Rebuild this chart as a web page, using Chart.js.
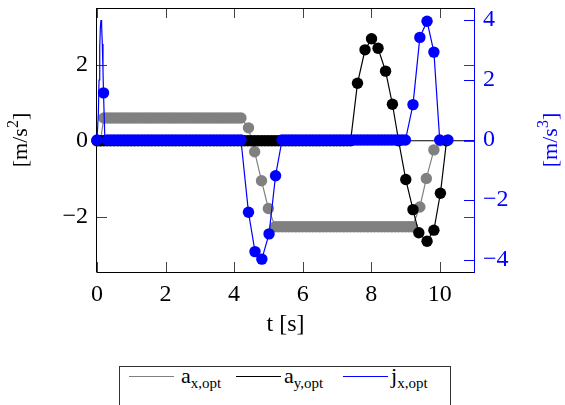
<!DOCTYPE html>
<html>
<head>
<meta charset="utf-8">
<script src="https://cdn.jsdelivr.net/npm/chart.js@4.4.1/dist/chart.umd.min.js"></script>
<style>
  body { margin: 0; background: #fff; }
  #wrap { position: relative; width: 565px; height: 405px; overflow: hidden; font-family: "Liberation Serif", "DejaVu Serif", serif; }
  #chart { position: absolute; left: 0; top: 0; }
  #legend { position: absolute; left: 119px; top: 366px; width: 332px; height: 60px; border: 1px solid #333; box-sizing: border-box; }
  .swatch { position: absolute; top: 9px; width: 45px; height: 0; border-top: 1px solid; }
  .label { position: absolute; top: -2px; font-size: 22px; line-height: 22px; white-space: nowrap; }
  .label sub { font-size: 15px; vertical-align: -5px; line-height: 0; }
</style>
</head>
<body>
<div id="wrap">
  <canvas id="chart" width="565" height="360"></canvas>
  <div id="legend">
    <div class="swatch" style="left:9px;border-color:#808080"></div>
    <div class="label" style="left:61px">a<sub>x,opt</sub></div>
    <div class="swatch" style="left:116px;border-color:#000"></div>
    <div class="label" style="left:164px">a<sub>y,opt</sub></div>
    <div class="swatch" style="left:223px;border-color:#0000ff"></div>
    <div class="label" style="left:271px">j<sub>x,opt</sub></div>
  </div>
</div>
<script>
const BLUE = "#0000ff";
const GRAY = "#808080";

const xTicks = [0, 2, 4, 6, 8, 10];
const accTicks = [-2, 0, 2];
const jerkTicks = [-4, -2, 0, 2, 4];

// a_x,opt markers (left axis, m/s^2)
const axT = [
  0, 0.1,
  0.2, 0.3, 0.4, 0.5, 0.6, 0.7, 0.8, 0.9, 1, 1.1,
  1.2, 1.3, 1.4, 1.5, 1.6, 1.7, 1.8, 1.9, 2, 2.1,
  2.2, 2.3, 2.4, 2.5, 2.6, 2.7, 2.8, 2.9, 3, 3.1,
  3.2, 3.3, 3.4, 3.5, 3.6, 3.7, 3.8, 3.9, 4, 4.1,
  4.2,
  4.42, 4.6, 4.8, 5,
  5.2, 5.3, 5.4, 5.5, 5.6, 5.7, 5.8, 5.9, 6, 6.1,
  6.2, 6.3, 6.4, 6.5, 6.6, 6.7, 6.8, 6.9, 7, 7.1,
  7.2, 7.3, 7.4, 7.5, 7.6, 7.7, 7.8, 7.9, 8, 8.1,
  8.2, 8.3, 8.4, 8.5, 8.6, 8.7, 8.8, 8.9, 9, 9.1,
  9.2,
  9.42, 9.61, 9.83, 10.02
];
const axV = [
  0, 0,
  0.6, 0.6, 0.6, 0.6, 0.6, 0.6, 0.6, 0.6, 0.6, 0.6,
  0.6, 0.6, 0.6, 0.6, 0.6, 0.6, 0.6, 0.6, 0.6, 0.6,
  0.6, 0.6, 0.6, 0.6, 0.6, 0.6, 0.6, 0.6, 0.6, 0.6,
  0.6, 0.6, 0.6, 0.6, 0.6, 0.6, 0.6, 0.6, 0.6, 0.6,
  0.6,
  0.34, -0.29, -1.05, -1.78,
  -2.26, -2.26, -2.26, -2.26, -2.26, -2.26, -2.26, -2.26, -2.26, -2.26,
  -2.26, -2.26, -2.26, -2.26, -2.26, -2.26, -2.26, -2.26, -2.26, -2.26,
  -2.26, -2.26, -2.26, -2.26, -2.26, -2.26, -2.26, -2.26, -2.26, -2.26,
  -2.26, -2.26, -2.26, -2.26, -2.26, -2.26, -2.26, -2.26, -2.26, -2.26,
  -2.26,
  -1.74, -0.99, -0.24, 0
];

// a_y,opt markers (left axis, m/s^2)
const ayT = [
  0, 0.1, 0.2, 0.3, 0.4, 0.5, 0.6, 0.7, 0.8, 0.9,
  1, 1.1, 1.2, 1.3, 1.4, 1.5, 1.6, 1.7, 1.8, 1.9,
  2, 2.1, 2.2, 2.3, 2.4, 2.5, 2.6, 2.7, 2.8, 2.9,
  3, 3.1, 3.2, 3.3, 3.4, 3.5, 3.6, 3.7, 3.8, 3.9,
  4, 4.1, 4.2, 4.3, 4.4, 4.5, 4.6, 4.7, 4.8, 4.9,
  5, 5.1, 5.2, 5.3, 5.4, 5.5, 5.6, 5.7, 5.8, 5.9,
  6, 6.1, 6.2, 6.3, 6.4, 6.5, 6.6, 6.7, 6.8, 6.9,
  7, 7.1, 7.2, 7.3, 7.4,
  7.6, 7.82, 8.01, 8.2, 8.42, 8.62, 8.8,
  9.01, 9.22, 9.39, 9.63, 9.83, 10.02, 10.2
];
const ayV = [
  0, 0, 0, 0, 0, 0, 0, 0, 0, 0,
  0, 0, 0, 0, 0, 0, 0, 0, 0, 0,
  0, 0, 0, 0, 0, 0, 0, 0, 0, 0,
  0, 0, 0, 0, 0, 0, 0, 0, 0, 0,
  0, 0, 0, 0, 0, 0, 0, 0, 0, 0,
  0, 0, 0, 0, 0, 0, 0, 0, 0, 0,
  0, 0, 0, 0, 0, 0, 0, 0, 0, 0,
  0, 0, 0, 0, 0,
  1.51, 2.39, 2.68, 2.43, 1.83, 0.96, 0,
  -1.02, -1.81, -2.42, -2.64, -2.35, -1.38, 0
];

// j_x,opt markers (right axis, m/s^3)
const jxT = [
  0, 0.19,
  0.3, 0.4, 0.5, 0.6, 0.7, 0.8, 0.9, 1, 1.1, 1.2,
  1.3, 1.4, 1.5, 1.6, 1.7, 1.8, 1.9, 2, 2.1, 2.2,
  2.3, 2.4, 2.5, 2.6, 2.7, 2.8, 2.9, 3, 3.1, 3.2,
  3.3, 3.4, 3.5, 3.6, 3.7, 3.8, 3.9, 4, 4.1, 4.2,
  4.42, 4.61, 4.81, 5.02, 5.21,
  5.4, 5.5, 5.6, 5.7, 5.8, 5.9, 6, 6.1, 6.2, 6.3,
  6.4, 6.5, 6.6, 6.7, 6.8, 6.9, 7, 7.1, 7.2, 7.3,
  7.4, 7.5, 7.6, 7.7, 7.8, 7.9, 8, 8.1, 8.2, 8.3,
  8.4, 8.5, 8.6, 8.7, 8.8, 8.9, 9,
  9.22, 9.42, 9.63, 9.83, 10, 10.24
];
const jxV = [
  0, 1.57,
  0, 0, 0, 0, 0, 0, 0, 0, 0, 0,
  0, 0, 0, 0, 0, 0, 0, 0, 0, 0,
  0, 0, 0, 0, 0, 0, 0, 0, 0, 0,
  0, 0, 0, 0, 0, 0, 0, 0, 0, 0,
  -2.41, -3.72, -3.97, -3.13, -1.19,
  0, 0, 0, 0, 0, 0, 0, 0, 0, 0,
  0, 0, 0, 0, 0, 0, 0, 0, 0, 0,
  0, 0, 0, 0, 0, 0, 0, 0, 0, 0,
  0, 0, 0, 0, 0, 0, 0,
  1.18, 3.42, 3.96, 2.93, 0, 0
];

// j_x,opt curve (finer near the start spike)
const jxLineT = [
  0, 0.04, 0.06, 0.08, 0.1, 0.117, 0.135, 0.155, 0.175, 0.19, 0.23,
  4.2, 4.42, 4.61, 4.81, 5.02, 5.21, 5.4,
  9, 9.22, 9.42, 9.63, 9.83, 10, 10.24
];
const jxLineV = [
  0, 0.9, 2.0, 3.1, 3.8, 4.0, 3.8, 3.2, 2.3, 1.57, 0,
  0, -2.41, -3.72, -3.97, -3.13, -1.19, 0,
  0, 1.18, 3.42, 3.96, 2.93, 0, 0
];

function points(ts, vs) {
  return ts.map((t, i) => ({ x: t, y: vs[i] }));
}

function fixedTicks(values) {
  return (scale) => {
    scale.ticks = values.map((value) => ({ value }));
  };
}

function minusSign(value) {
  return String(value).replace("-", "\u2212");
}

const serif = '"Liberation Serif", "DejaVu Serif", serif';

// rotated unit label "[m/s^n]" with a real superscript
function unitTitle(ctx, cx, cy, power, color) {
  ctx.save();
  ctx.translate(cx, cy);
  ctx.rotate(-Math.PI / 2);
  ctx.fillStyle = color;
  ctx.textBaseline = "alphabetic";
  const big = "22px " + serif;
  const small = "16px " + serif;
  ctx.font = big;
  const w1 = ctx.measureText("[m/s").width;
  const w3 = ctx.measureText("]").width;
  ctx.font = small;
  const w2 = ctx.measureText(power).width;
  let x = -(w1 + w2 + w3) / 2;
  const base = 7;
  ctx.font = big;
  ctx.fillText("[m/s", x, base);
  x += w1;
  ctx.font = small;
  ctx.fillText(power, x, base - 9);
  x += w2;
  ctx.font = big;
  ctx.fillText("]", x, base);
  ctx.restore();
}

const framePlugin = {
  id: "frame",
  beforeDatasetsDraw(chart) {
    const { ctx, chartArea: a, scales } = chart;
    const tick = 10;
    const seg = (x1, y1, x2, y2) => {
      ctx.beginPath();
      ctx.moveTo(x1, y1);
      ctx.lineTo(x2, y2);
      ctx.stroke();
    };
    ctx.save();
    ctx.lineWidth = 1;

    const y0 = scales.yA.getPixelForValue(0);
    ctx.strokeStyle = "#000";
    seg(a.left, y0, a.right, y0);

    ctx.strokeStyle = "#444";
    for (const v of xTicks) {
      const x = Math.round(scales.x.getPixelForValue(v)) + 0.5;
      seg(x, a.bottom, x, a.bottom - tick);
      seg(x, a.top, x, a.top + tick);
    }
    for (const v of accTicks) {
      const y = Math.round(scales.yA.getPixelForValue(v)) + 0.5;
      seg(a.left, y, a.left + tick, y);
      seg(a.right, y, a.right - tick, y);
    }
    ctx.strokeStyle = BLUE;
    for (const v of jerkTicks) {
      const y = Math.round(scales.yJ.getPixelForValue(v)) + 0.5;
      seg(a.right - tick, y, a.right, y);
    }

    ctx.strokeStyle = "#000";
    seg(a.left - 0.5, a.top + 0.5, a.right, a.top + 0.5);
    seg(a.left - 0.5, a.top, a.left - 0.5, a.bottom);
    seg(a.left - 0.5, a.bottom + 0.5, a.right, a.bottom + 0.5);
    ctx.strokeStyle = BLUE;
    seg(a.right + 0.5, a.top, a.right + 0.5, a.bottom + 1);
    ctx.restore();
  },
  afterDraw(chart) {
    const { ctx, chartArea: a } = chart;
    const midY = (a.top + a.bottom) / 2;
    unitTitle(ctx, 20, midY, "2", "#000");
    unitTitle(ctx, a.right + 76, midY, "3", BLUE);
  }
};

function fitY(width) {
  return (scale) => {
    scale.width = width;
    scale.paddingTop = 0;
    scale.paddingBottom = 0;
  };
}

new Chart(document.getElementById("chart"), {
  type: "scatter",
  data: {
    datasets: [
      {
        label: "a_x,opt",
        data: points(axT, axV),
        yAxisID: "yA",
        showLine: true,
        borderColor: GRAY,
        borderWidth: 1.2,
        pointRadius: 5.7,
        pointBackgroundColor: GRAY,
        pointBorderWidth: 0,
        clip: false,
        order: 4
      },
      {
        label: "a_y,opt",
        data: points(ayT, ayV),
        yAxisID: "yA",
        showLine: true,
        borderColor: "#000",
        borderWidth: 1.2,
        pointRadius: 5.7,
        pointBackgroundColor: "#000",
        pointBorderWidth: 0,
        clip: false,
        order: 3
      },
      {
        label: "j_x,opt line",
        data: points(jxLineT, jxLineV),
        yAxisID: "yJ",
        showLine: true,
        borderColor: BLUE,
        borderWidth: 1.2,
        pointRadius: 0,
        clip: false,
        order: 2
      },
      {
        label: "j_x,opt",
        data: points(jxT, jxV),
        yAxisID: "yJ",
        showLine: false,
        pointRadius: 5.7,
        pointBackgroundColor: BLUE,
        pointBorderWidth: 0,
        clip: false,
        order: 1
      }
    ]
  },
  options: {
    responsive: false,
    animation: false,
    devicePixelRatio: 1,
    layout: { padding: { top: 8, left: 0, right: 0, bottom: 0 } },
    plugins: { legend: { display: false }, tooltip: { enabled: false } },
    scales: {
      x: {
        type: "linear",
        position: "bottom",
        min: 0,
        max: 11,
        afterBuildTicks: fixedTicks(xTicks),
        afterFit: (scale) => {
          scale.height = 88;
          scale.paddingLeft = 0;
          scale.paddingRight = 0;
        },
        grid: { display: false, drawTicks: false },
        border: { display: false },
        ticks: { color: "#000", font: { family: serif, size: 24 }, padding: 8, maxRotation: 0 },
        title: { display: true, text: "t [s]", color: "#000", font: { family: serif, size: 24 }, padding: { top: 0, bottom: 21 } }
      },
      yA: {
        type: "linear",
        position: "left",
        min: -3.45,
        max: 3.49,
        afterBuildTicks: fixedTicks(accTicks),
        afterFit: fitY(97),
        grid: { display: false, drawTicks: false },
        border: { display: false },
        ticks: { color: "#000", font: { family: serif, size: 24 }, padding: 9, callback: minusSign }
      },
      yJ: {
        type: "linear",
        position: "right",
        min: -4.4,
        max: 4.4,
        afterBuildTicks: fixedTicks(jerkTicks),
        afterFit: fitY(91),
        grid: { display: false, drawTicks: false },
        border: { display: false },
        ticks: { color: BLUE, font: { family: serif, size: 24 }, padding: 9, callback: minusSign }
      }
    }
  },
  plugins: [framePlugin]
});
</script>
</body>
</html>
